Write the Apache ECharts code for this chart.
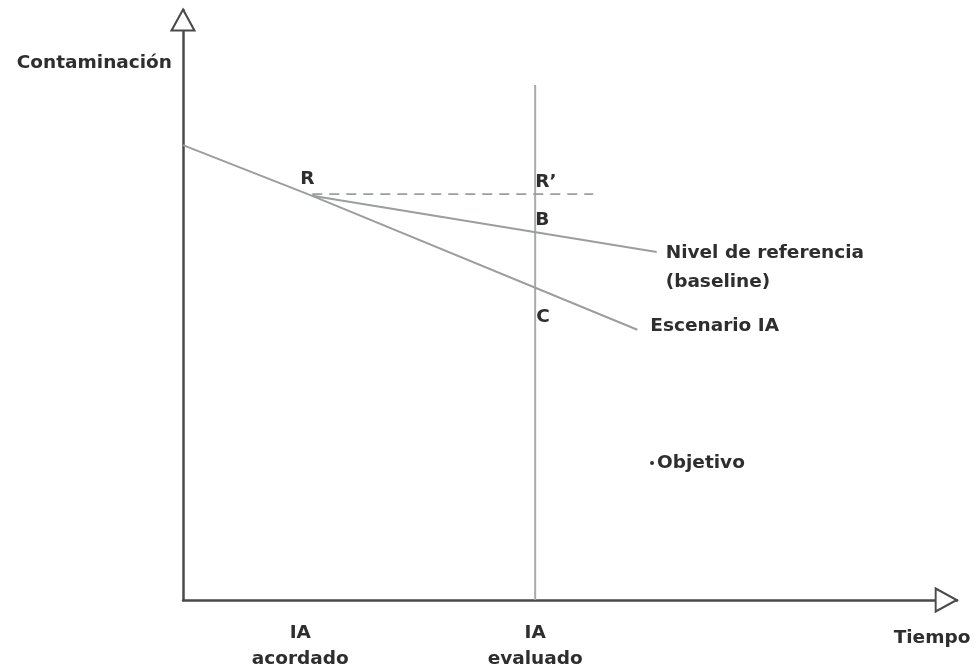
<!DOCTYPE html>
<html>
<head>
<meta charset="utf-8">
<script src="https://cdn.jsdelivr.net/npm/echarts@6/dist/echarts.min.js"></script>
<style>html,body{margin:0;padding:0;background:#fff}#c{width:975px;height:670px}</style>
</head>
<body>
<div id="c"></div>
<script>
// Conceptual units: time t (0-100), pollution p (0-100)
const tAgreed = 16.7;       // IA acordado (point R)
const tEval = 45.5;         // IA evaluado
const scenarioIA = [[0, 77.1], [tAgreed, 68.5], [58.7, 45.8]];
const baseline = [[tAgreed, 68.5], [61.2, 59.0]];
const refLevel = [[tAgreed, 68.8], [53.0, 68.8]];
const evalLine = [[tEval, 0], [tEval, 87.3]];
const pointR = [tAgreed, 68.5];
const pointRp = [tEval, 68.8];
const pointB = [tEval, 62.3];
const pointC = [tEval, 52.9];
const objective = [60.6, 23.2];
const xTickLabels = [[tAgreed, 'IA\nacordado'], [tEval, 'IA\nevaluado']];
const axisNames = {x: 'Tiempo', y: 'Contaminación'};

const FONT = '"DejaVu Sans"';
const FS = 18.5;
const TXT = '#2e2e2e';
const LINE = '#9a9e9c';
const AX = '#4a4a4a';

const lbl = (extra) => Object.assign({show: true, color: TXT, fontFamily: FONT, fontWeight: 'bold', fontSize: FS}, extra);

const chart = echarts.init(document.getElementById('c'), null, {renderer: 'canvas'});
chart.setOption({
  animation: false,
  grid: {left: 183, top: 10, right: 18, bottom: 70, containLabel: false},
  xAxis: {
    type: 'value', min: 0, max: 100,
    axisLine: {show: true, onZero: false, lineStyle: {color: AX, width: 2.5}},
    axisTick: {show: false}, axisLabel: {show: false}, splitLine: {show: false},
    name: axisNames.x, nameLocation: 'end', nameGap: -25,
    nameTextStyle: {color: TXT, fontFamily: FONT, fontWeight: 'bold', fontSize: FS, align: 'center', verticalAlign: 'top', padding: [29, 0, 0, 0]}
  },
  yAxis: {
    type: 'value', min: 0, max: 100,
    axisLine: {show: true, onZero: false, lineStyle: {color: AX, width: 2.5}},
    axisTick: {show: false}, axisLabel: {show: false}, splitLine: {show: false},
    name: axisNames.y, nameLocation: 'end', nameGap: -53,
    nameTextStyle: {color: TXT, fontFamily: FONT, fontWeight: 'bold', fontSize: FS, align: 'right', verticalAlign: 'middle', padding: [0, 11, 0, 0]}
  },
  series: [
    {type: 'line', data: evalLine, symbol: 'none', lineStyle: {color: '#a7aaa8', width: 2}, z: 2},
    {type: 'line', data: refLevel, symbol: 'none', lineStyle: {color: LINE, width: 1.6, type: [10, 7]}, z: 3},
    {type: 'line', data: scenarioIA, symbol: 'none', lineStyle: {color: LINE, width: 2}, z: 3,
      endLabel: {show: true, formatter: 'Escenario IA', color: TXT, fontFamily: FONT, fontWeight: 'bold', fontSize: FS, offset: [5, -4]}},
    {type: 'line', data: baseline, symbol: 'none', lineStyle: {color: LINE, width: 2}, z: 3,
      endLabel: {show: true, formatter: 'Nivel de referencia\n(baseline)', color: TXT, fontFamily: FONT, fontWeight: 'bold', fontSize: FS, lineHeight: 29, align: 'left', verticalAlign: 'top', offset: [1, -13]}},
    {type: 'scatter', symbolSize: 0, clip: false, z: 5, silent: true, itemStyle: {opacity: 1},
      data: [
        {value: pointR, label: lbl({formatter: 'R', position: 'top', offset: [-5, -2]})},
        {value: pointRp, label: lbl({formatter: 'R\u2019', position: 'right', offset: [-5, -12]})},
        {value: pointB, label: lbl({formatter: 'B', position: 'right', offset: [-5, -12]})},
        {value: pointC, label: lbl({formatter: 'C', position: 'right', offset: [-4, 29]})}
      ]},
    {type: 'scatter', symbol: 'circle', symbolSize: 4, clip: false, z: 5, silent: true,
      itemStyle: {color: TXT, opacity: 1},
      data: [{value: objective, label: lbl({formatter: 'Objetivo', position: 'right', distance: 3})}]},
    {type: 'scatter', symbolSize: 0, clip: false, z: 5, silent: true, itemStyle: {opacity: 1},
      data: xTickLabels.map(d => ({value: [d[0], 0], label: lbl({formatter: d[1], position: 'bottom', distance: 20, lineHeight: 26, align: 'center', offset: [d[0] === tAgreed ? -12 : 0, 0]})}))},
    {type: 'scatter', symbol: 'triangle', symbolSize: [23, 21], clip: false, z: 10, silent: true,
      itemStyle: {color: '#fff', borderColor: AX, borderWidth: 2, opacity: 1},
      data: [
        {value: [0, 98.3]},
        {value: [98.6, 0], symbolRotate: -90}
      ]}
  ]
});
</script>
</body>
</html>
